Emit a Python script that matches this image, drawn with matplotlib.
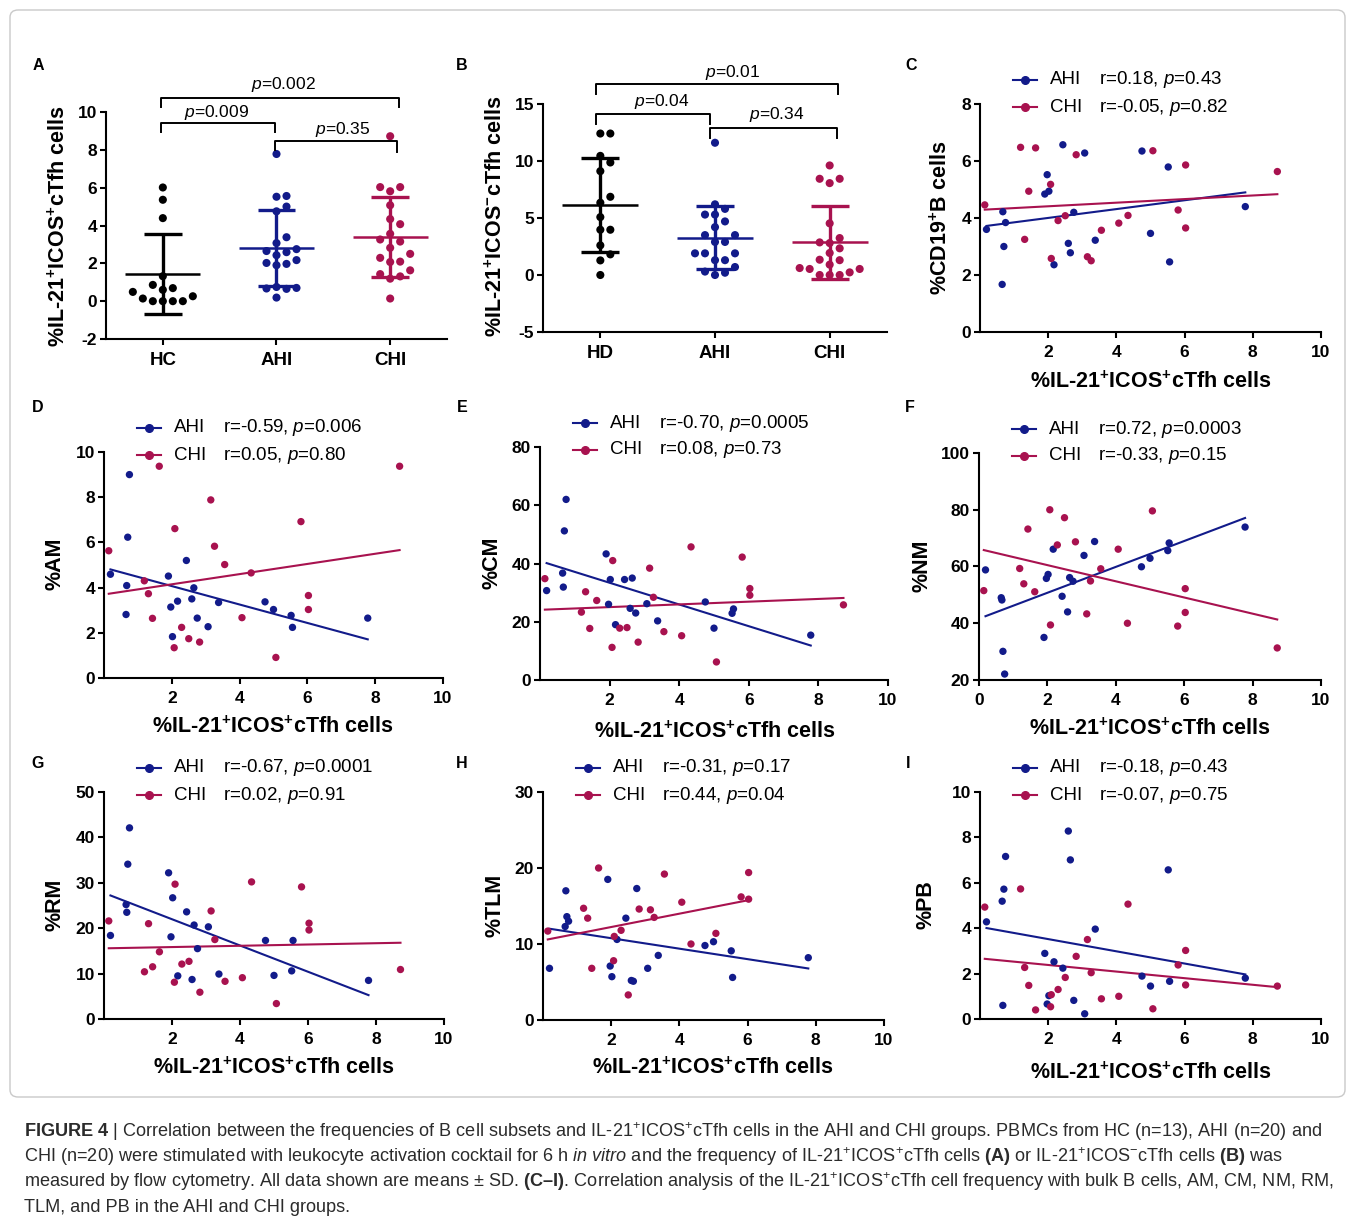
import numpy as np
import matplotlib
matplotlib.use("Agg")
import matplotlib.pyplot as plt
from matplotlib.transforms import Affine2D
from matplotlib.lines import Line2D
from matplotlib.patches import FancyBboxPatch

plt.rcParams['font.family'] = ['Liberation Sans', 'DejaVu Sans']
plt.rcParams['mathtext.fontset'] = 'custom'
plt.rcParams['mathtext.rm'] = 'Liberation Sans'
plt.rcParams['mathtext.it'] = 'Liberation Sans:italic'
plt.rcParams['mathtext.bf'] = 'Liberation Sans:bold'

# ---------------- data ----------------
# Panel A: %IL-21+ICOS+ cTfh cells
HC_POS = [6.01, 5.36, 4.39, 1.32, 0.86, 0.69, 0.60, 0.49, 0.26, 0.14, 0.0, 0.0, 0.0, 0.0]
AHI_POS = [0.19, 0.65, 0.67, 0.70, 0.75, 1.90, 1.97, 2.02, 2.17, 2.43,
           2.59, 2.65, 2.75, 3.07, 3.38, 4.75, 5.00, 5.52, 5.56, 7.78]
CHI_POS = [0.14, 1.19, 1.31, 1.43, 1.63, 2.07, 2.09, 2.29, 2.50, 2.82,
           3.15, 3.26, 3.56, 4.07, 4.34, 5.07, 5.81, 6.03, 6.03, 8.72]
# Panel B: %IL-21+ICOS- cTfh cells
HD_NEG = [12.41, 12.41, 10.45, 9.87, 9.11, 6.86, 6.34, 5.08, 3.97, 3.97, 2.60, 1.81, 1.28, 0.0]
AHI_NEG = [11.6, 6.2, 5.8, 5.3, 5.3, 4.7, 4.2, 3.5, 3.5, 2.9,
           2.9, 1.9, 1.9, 1.9, 1.3, 1.3, 0.7, 0.3, 0.2, 0.0]
CHI_NEG = [9.61, 8.44, 8.44, 8.06, 4.53, 3.24, 2.86, 2.80, 2.34, 1.93,
           1.34, 1.30, 0.91, 0.61, 0.53, 0.53, 0.23, 0.0, 0.0, 0.0]
GROUPS_A = ['HC', 'AHI', 'CHI']
GROUPS_B = ['HD', 'AHI', 'CHI']

# Panels C-I (y values paired with AHI_POS / CHI_POS)
AHI_B = [3.60, 1.67, 4.22, 3.00, 3.84, 4.84, 5.52, 4.94, 2.36, 6.57, 3.11, 2.78, 4.20, 6.28, 3.22, 6.35, 3.46, 5.79, 2.46, 4.40]
CHI_B = [4.46, 6.48, 3.25, 4.94, 6.46, 5.18, 2.58, 3.91, 4.08, 6.22, 2.64, 2.50, 3.57, 3.82, 4.09, 6.36, 4.28, 5.86, 3.65, 5.63]
AHI_AM = [4.59, 2.81, 4.09, 6.23, 9.00, 4.51, 3.14, 1.83, 3.40, 5.20, 3.50, 3.99, 2.65, 2.27, 3.34, 3.37, 3.03, 2.77, 2.24, 2.65]
CHI_AM = [5.63, 4.30, 3.73, 2.64, 9.37, 1.34, 6.61, 2.24, 1.74, 1.59, 7.88, 5.83, 5.02, 2.67, 4.65, 0.91, 6.92, 3.65, 3.03, 9.37]
AHI_CM = [30.7, 36.7, 31.9, 51.2, 62.0, 43.3, 26.0, 34.5, 19.0, 34.5, 24.6, 35.0, 23.0, 26.2, 20.3, 26.8, 17.8, 22.9, 24.4, 15.4]
CHI_CM = [34.8, 23.3, 30.3, 17.7, 27.3, 11.2, 41.0, 17.8, 18.0, 13.0, 38.4, 28.4, 16.6, 15.2, 45.7, 6.2, 42.2, 31.4, 29.1, 25.8]
AHI_NM = [58.8, 49.0, 48.2, 30.1, 22.1, 35.0, 55.8, 57.2, 66.1, 49.5, 44.0, 56.1, 54.8, 63.9, 68.8, 59.9, 62.9, 65.6, 68.3, 73.9]
CHI_NM = [51.5, 59.3, 53.9, 73.2, 51.1, 80.0, 39.4, 67.6, 77.2, 68.7, 43.3, 54.9, 59.2, 66.1, 40.0, 79.6, 39.0, 52.2, 43.8, 31.3]
AHI_RM = [18.4, 25.2, 23.5, 34.1, 42.1, 32.2, 18.1, 26.7, 9.5, 23.6, 8.7, 20.7, 15.5, 20.3, 9.9, 17.3, 9.6, 10.6, 17.3, 8.5]
CHI_RM = [21.6, 10.4, 21.0, 11.5, 14.8, 8.1, 29.7, 12.1, 12.7, 5.9, 23.8, 17.5, 8.3, 9.1, 30.2, 3.4, 29.1, 21.1, 19.6, 10.9]
AHI_TLM = [6.8, 12.3, 17.0, 13.6, 13.0, 18.5, 7.1, 5.7, 10.6, 13.4, 5.2, 5.1, 17.3, 6.8, 8.5, 9.8, 10.3, 9.1, 5.6, 8.2]
CHI_TLM = [11.7, 14.7, 13.4, 6.8, 20.0, 7.8, 11.0, 11.8, 3.3, 14.6, 14.5, 13.5, 19.2, 15.5, 10.0, 11.4, 16.2, 19.4, 15.9, np.nan]
AHI_PB = [4.28, 5.19, 0.60, 5.72, 7.16, 2.89, 0.66, 1.03, 2.52, 2.24, 8.28, 7.01, 0.82, 0.23, 3.96, 1.89, 1.45, 6.57, 1.66, 1.80]
CHI_PB = [4.93, 5.73, 2.27, 1.48, 0.40, 0.54, 1.07, 1.30, 1.83, 2.76, 3.50, 2.04, 0.89, 1.00, 5.06, 0.45, 2.38, 3.02, 1.50, 1.45]

STATS = {
    'C': ('r=0.18, $\\it{p}$=0.43', 'r=-0.05, $\\it{p}$=0.82'),
    'D': ('r=-0.59, $\\it{p}$=0.006', 'r=0.05, $\\it{p}$=0.80'),
    'E': ('r=-0.70, $\\it{p}$=0.0005', 'r=0.08, $\\it{p}$=0.73'),
    'F': ('r=0.72, $\\it{p}$=0.0003', 'r=-0.33, $\\it{p}$=0.15'),
    'G': ('r=-0.67, $\\it{p}$=0.0001', 'r=0.02, $\\it{p}$=0.91'),
    'H': ('r=-0.31, $\\it{p}$=0.17', 'r=0.44, $\\it{p}$=0.04'),
    'I': ('r=-0.18, $\\it{p}$=0.43', 'r=-0.07, $\\it{p}$=0.75'),
}

BLACK = '#000000'
BLUE = '#121b8a'
RED = '#a8124f'

W, H = 1355, 1223
fig = plt.figure(figsize=(W / 100, H / 100), dpi=100)
PX = Affine2D().scale(1.0 / W, -1.0 / H).translate(0, 1) + fig.transFigure

# frame
fig.patches.append(FancyBboxPatch((10 / W, 1 - 1097 / H), 1335 / W, 1087 / H,
                                  boxstyle='round,pad=0,rounding_size=0.006',
                                  transform=fig.transFigure, fc='none', ec='#c9c9c9', lw=1.0))

TICK_FS = 12.5
LAB_FS = 15.5
LEG_FS = 13.5
XLABEL = '%IL-21$^{\\bf{+}}$ICOS$^{\\bf{+}}$cTfh cells'


def add_ax(l, t, r, b):
    ax = fig.add_axes([l / W, 1 - b / H, (r - l) / W, (b - t) / H])
    for s in ['top', 'right']:
        ax.spines[s].set_visible(False)
    for s in ['left', 'bottom']:
        ax.spines[s].set_linewidth(1.5)
    ax.tick_params(direction='out', length=4.5, width=1.5)
    ax.tick_params(axis='y', pad=2)
    ax.tick_params(axis='x', pad=5)
    ax._box = (l, t, r, b)
    return ax


def set_ticks(ax, xticks, xlabels, yticks, xfs=TICK_FS):
    ax.set_xticks(xticks)
    ax.set_xticklabels(xlabels, fontweight='bold', fontsize=xfs)
    ax.set_yticks(yticks)
    ax.set_yticklabels([str(v) for v in yticks], fontweight='bold', fontsize=TICK_FS)


def set_labels(ax, ylab, ylx, yly, xlab=None, xlx=None, xly=None):
    l, t, r, b = ax._box
    ax.set_ylabel(ylab, fontsize=LAB_FS, fontweight='bold')
    ax.yaxis.set_label_coords((ylx - l) / (r - l), (b - yly) / (b - t))
    ax.yaxis.label.set_va('center')
    if xlab is not None:
        ax.set_xlabel(xlab, fontsize=LAB_FS, fontweight='bold')
        ax.xaxis.set_label_coords((xlx - l) / (r - l), (b - xly) / (b - t))
        ax.xaxis.label.set_va('center')


def swarm(vals, px_y, d):
    vals = np.asarray(vals, float)
    order = np.argsort(vals, kind='stable')
    placed = []
    offs = np.zeros(len(vals))
    cands = [0.0]
    for m in range(1, 40):
        cands += [m * d, -m * d]
    for i in order:
        y = vals[i] * px_y
        for c in cands:
            if all((c - px) ** 2 + (y - py) ** 2 >= (0.97 * d) ** 2 for px, py in placed):
                break
        placed.append((c, y))
        offs[i] = c
    return offs


def column_plot(ax, groups, names, colors, ylim, yticks, brackets):
    l, t, r, b = ax._box
    ax.set_xlim(-0.5, 2.5)
    ax.set_ylim(*ylim)
    px_x = (r - l) / 3.0
    px_y = (b - t) / (ylim[1] - ylim[0])
    for i, (vals, col) in enumerate(zip(groups, colors)):
        vals = np.asarray(vals, float)
        offs = swarm(vals, px_y, 10.0) / px_x
        ax.scatter(i + offs, vals, s=34, color=col, edgecolors='none', zorder=3, clip_on=False)
        m = vals.mean()
        sd = vals.std(ddof=1)
        ax.plot([i - 0.33, i + 0.33], [m, m], color=col, lw=1.8, zorder=4, solid_capstyle='butt')
        ax.plot([i, i], [m - sd, m + sd], color=col, lw=2.4, zorder=4, solid_capstyle='butt')
        for yy in (m - sd, m + sd):
            ax.plot([i - 0.165, i + 0.165], [yy, yy], color=col, lw=2.4, zorder=4, solid_capstyle='butt')
    for (x1, x2, ytop, ye1, ye2, txt, tx, ty) in brackets:
        ax.plot([x1, x1, x2, x2], [ye1, ytop, ytop, ye2], color='black', lw=1.4,
                clip_on=False, zorder=5)
        ax.text(tx, ty, txt, ha='center', va='center', fontsize=12.5, clip_on=False)
    set_ticks(ax, [0, 1, 2], names, yticks, xfs=13.5)


def scatter_panel(ax, yA, yC, ylim, yticks, xticks, stats):
    l, t, r, b = ax._box
    ax.set_xlim(0, 10)
    ax.set_ylim(*ylim)
    for xs, ys, col in ((AHI_POS, yA, BLUE), (CHI_POS, yC, RED)):
        xs = np.asarray(xs, float)
        ys = np.asarray(ys, float)
        ok = ~np.isnan(ys)
        ax.scatter(xs[ok], ys[ok], s=28, color=col, edgecolors='none', zorder=3, clip_on=False)
        k, c0 = np.polyfit(xs[ok], ys[ok], 1)
        xx = np.array([xs[ok].min(), xs[ok].max()])
        ax.plot(xx, k * xx + c0, color=col, lw=1.5, zorder=2)
    set_ticks(ax, xticks, [str(v) for v in xticks], yticks)
    # legend
    for row, (name, col, st) in enumerate((('AHI', BLUE, stats[0]), ('CHI', RED, stats[1]))):
        yy = t - 24 + row * 27
        fig.add_artist(Line2D([l + 33, l + 57], [yy, yy], transform=PX, color=col, lw=1.5))
        fig.add_artist(Line2D([l + 45], [yy], transform=PX, color=col, marker='o', ms=5.5, lw=0))
        fig.text(l + 70, yy, name, transform=PX, fontsize=LEG_FS, va='center', ha='left')
        fig.text(l + 119, yy, st, transform=PX, fontsize=LEG_FS, va='center', ha='left')


# ---------------- Panel A ----------------
axA = add_ax(106, 112, 447, 339)
column_plot(axA, [HC_POS, AHI_POS, CHI_POS], GROUPS_A, [BLACK, BLUE, RED], (-2, 10), [-2, 0, 2, 4, 6, 8, 10],
            [(-0.02, 0.99, 9.42, 8.95, 8.95, '$\\it{p}$=0.009', 0.475, 10.0),
             (-0.02, 2.08, 10.74, 10.26, 10.26, '$\\it{p}$=0.002', 1.06, 11.48),
             (0.99, 2.06, 8.48, 8.0, 7.88, '$\\it{p}$=0.35', 1.58, 9.1)])
set_labels(axA, XLABEL, 59, 226)

# ---------------- Panel B ----------------
axB = add_ax(543, 104, 887, 332)
column_plot(axB, [HD_NEG, AHI_NEG, CHI_NEG], GROUPS_B, [BLACK, BLUE, RED], (-5, 15), [-5, 0, 5, 10, 15],
            [(-0.04, 0.96, 14.1, 13.26, 13.26, '$\\it{p}$=0.04', 0.54, 15.26),
             (-0.04, 2.07, 16.76, 15.88, 15.88, '$\\it{p}$=0.01', 1.15, 17.8),
             (0.96, 2.06, 12.93, 12.0, 12.0, '$\\it{p}$=0.34', 1.54, 14.12)])
set_labels(axB, '%IL-21$^{\\bf{+}}$ICOS$^{\\bf{-}}$cTfh cells', 496, 216)

# ---------------- Panels C-I ----------------
axC = add_ax(980, 104, 1321, 332)
scatter_panel(axC, AHI_B, CHI_B, (0, 8), [0, 2, 4, 6, 8], [2, 4, 6, 8, 10], STATS['C'])
set_labels(axC, '%CD19$^{\\bf{+}}$B cells', 941, 218, XLABEL, 1151, 382)

axD = add_ax(104, 452, 443, 678)
scatter_panel(axD, AHI_AM, CHI_AM, (0, 10), [0, 2, 4, 6, 8, 10], [2, 4, 6, 8, 10], STATS['D'])
set_labels(axD, '%AM', 55, 564, XLABEL, 273, 727)

axE = add_ax(540, 447, 888, 680)
scatter_panel(axE, AHI_CM, CHI_CM, (0, 80), [0, 20, 40, 60, 80], [2, 4, 6, 8, 10], STATS['E'])
set_labels(axE, '%CM', 492, 563, XLABEL, 715, 732)

axF = add_ax(979, 453, 1321, 680)
scatter_panel(axF, AHI_NM, CHI_NM, (20, 100), [20, 40, 60, 80, 100], [0, 2, 4, 6, 8, 10], STATS['F'])
set_labels(axF, '%NM', 922, 566, XLABEL, 1150, 729)

axG = add_ax(104, 792, 444, 1019)
scatter_panel(axG, AHI_RM, CHI_RM, (0, 50), [0, 10, 20, 30, 40, 50], [2, 4, 6, 8, 10], STATS['G'])
set_labels(axG, '%RM', 55, 905, XLABEL, 274, 1068)

axH = add_ax(543, 792, 884, 1020)
scatter_panel(axH, AHI_TLM, CHI_TLM, (0, 30), [0, 10, 20, 30], [2, 4, 6, 8, 10], STATS['H'])
set_labels(axH, '%TLM', 495, 905, XLABEL, 713, 1068)

axI = add_ax(980, 792, 1321, 1019)
scatter_panel(axI, AHI_PB, CHI_PB, (0, 10), [0, 2, 4, 6, 8, 10], [2, 4, 6, 8, 10], STATS['I'])
set_labels(axI, '%PB', 926, 905, XLABEL, 1151, 1073)

# panel letters
for letter, (x, y) in {'A': (38, 66), 'B': (462, 66), 'C': (911, 66),
                       'D': (38, 408), 'E': (462, 408), 'F': (910, 408),
                       'G': (38, 764), 'H': (462, 764), 'I': (908, 764)}.items():
    fig.text(x, y, letter, transform=PX, fontsize=11.5, fontweight='bold', ha='center', va='center')

# caption
CAPTION = [
    '$\\bf{FIGURE\\ 4}$ | Correlation between the frequencies of B cell subsets and IL-21$^{+}$ICOS$^{+}$cTfh cells in the AHI and CHI groups. PBMCs from HC (n=13), AHI (n=20) and',
    'CHI (n=20) were stimulated with leukocyte activation cocktail for 6 h $\\it{in\\ vitro}$ and the frequency of IL-21$^{+}$ICOS$^{+}$cTfh cells $\\bf{(A)}$ or IL-21$^{+}$ICOS$^{-}$cTfh cells $\\bf{(B)}$ was',
    'measured by flow cytometry. All data shown are means \u00b1 SD. $\\bf{(C\u2013I)}$. Correlation analysis of the IL-21$^{+}$ICOS$^{+}$cTfh cell frequency with bulk B cells, AM, CM, NM, RM,',
    'TLM, and PB in the AHI and CHI groups.',
]
cap_texts = []
for i, line in enumerate(CAPTION):
    cap_texts.append(fig.text(24, 1132 + 25 * i, line, transform=PX, fontsize=12,
                              ha='left', va='center', color='#2b2b2b'))
fig.canvas.draw()
wline = cap_texts[0].get_window_extent().width
fs = 12 * 1297.0 / wline
for tt in cap_texts:
    tt.set_fontsize(fs)

fig.savefig('out.png', dpi=100)
